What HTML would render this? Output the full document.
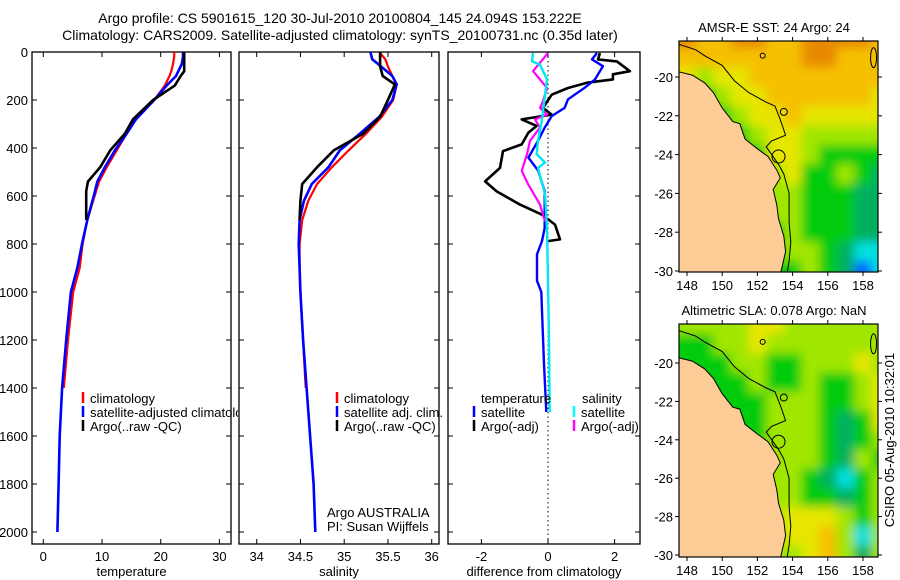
<!DOCTYPE html>
<html><head><meta charset="utf-8">
<style>
html,body{margin:0;padding:0;background:#fff;}
svg{display:block;font-family:"Liberation Sans",sans-serif;}
</style></head>
<body>
<svg id="fig" width="900" height="580" viewBox="0 0 900 580" xmlns="http://www.w3.org/2000/svg">
<defs>
<filter id="blur" x="-10%" y="-10%" width="120%" height="120%"><feGaussianBlur stdDeviation="5"/></filter>
<clipPath id="clip-leg1"><rect x="0" y="380" width="238" height="60"/></clipPath>
</defs>
<text x="340" y="23" font-size="14" text-anchor="middle">Argo profile: CS 5901615_120 30-Jul-2010 20100804_145 24.094S 153.222E</text>
<text x="340" y="40" font-size="14" text-anchor="middle">Climatology: CARS2009. Satellite-adjusted climatology: synTS_20100731.nc (0.35d later)</text>
<g id="g"></g>
</svg>
<script>
// ---------- DATA ----------
const tDepth = [0,20,50,80,100,140,200,280,340,410,480,540,580,700,800,900,1000,1200,1400,1600,1800,2000];
const climTemp = [22.3,22.3,22.1,21.8,21.5,20.7,18.9,15.8,14.2,12.5,10.8,9.5,9.0,7.5,6.7,6.2,5.1,4.2,3.5,null,null,null];
const satTemp  = [23.8,23.8,23.6,23.0,22.6,21.0,18.9,15.8,14.2,12.2,10.5,9.2,8.8,7.5,6.6,5.8,4.7,3.9,3.2,2.8,2.6,2.4];
const argoTemp = [24.0,24.0,24.0,24.0,23.4,22.4,18.7,15.3,13.9,11.4,9.7,7.6,7.3,7.3,6.6,5.8,4.7,3.9,3.2,2.8,2.6,2.4];
const sDepth = [0,30,60,100,135,200,270,340,410,480,550,620,700,800,900,1000,1200,1400,1600,1800,2000];
const climSal = [35.40,35.47,35.50,35.55,35.60,35.56,35.43,35.25,35.05,34.86,34.69,34.59,34.52,34.49,34.49,34.50,34.53,34.56,null,null,null];
const satSal  = [35.30,35.32,35.42,35.55,35.60,35.55,35.40,35.18,34.95,34.82,34.63,34.54,34.49,34.48,34.49,34.50,34.53,34.57,34.61,34.65,34.67];
const argoSal = [35.41,35.41,35.41,35.44,35.58,35.50,35.41,35.22,34.88,34.69,34.52,34.50,34.49,34.48,34.49,34.50,34.53,34.57,34.61,34.65,34.67];
const dTArgoDepth = [4,31,39,80,93,114,128,150,178,233,261,281,308,336,385,413,483,539,581,636,678,719,781,788];
const dTArgo = [1.56,1.5,2.07,2.46,1.95,1.95,1.17,0.6,0.11,-0.15,0.11,-0.79,-0.34,-0.59,-0.79,-1.35,-1.44,-1.89,-1.54,-0.84,-0.18,0.21,0.36,0.0];
const dTSatDepth = [4,31,59,114,149,197,233,267,315,370,440,495,581,733,788,843,953,1000,1300,1500];
const dTSat = [1.47,1.32,1.65,1.41,1.1,0.6,0.5,0.11,-0.1,-0.3,-0.59,-0.29,-0.1,-0.1,-0.18,-0.33,-0.33,-0.2,-0.12,-0.05];
const dSSatDepth = [4,39,53,114,281,370,426,461,483,592,733,953,1200,1500];
const dSSat = [-0.45,-0.48,-0.24,-0.03,-0.18,-0.3,-0.34,-0.09,-0.3,-0.09,-0.03,0.0,0.03,0.05];
const dSArgoDepth = [4,80,114,150,205,233,261,281,315,370,426,495,550,636,706];
const dSArgo = [0.0,-0.45,-0.24,-0.03,-0.15,-0.24,-0.03,-0.39,-0.24,-0.54,-0.63,-0.79,-0.6,-0.24,-0.09];
const depthTicks = [0,200,400,600,800,1000,1200,1400,1600,1800,2000];
const tempTicks = [0,10,20,30];
const salTicks = [34,34.5,35,35.5,36];
const salTickLabels = ["34","34.5","35","35.5","36"];
const diffTicks = [-2,0,2];
const lonTicks = [148,150,152,154,156,158];
const latTicks = [-20,-22,-24,-26,-28,-30];
const gridLats = [-17,-18,-19,-20,-21,-22,-23,-24,-25,-26,-27,-28,-29,-30,-31];
const gridLons = [147,148,149,150,151,152,153,154,155,156,157,158,159,160];
const sstGrid = [
[9,9,8,8,9,9,8,8,9,9,9,9,8,8],
[9,9,8,8,9,9,8,8,9,9,9,9,8,8],[8,8,8,8,8,8,8,8,9,9,8,8,8,8],[7,7,6,7,7,8,8,8,8,8,8,8,8,8],
[6,6,5,6,7,7,8,8,8,8,8,8,7,7],[5,5,5,5,6,7,7,8,7,7,7,7,7,7],[5,5,5,5,5,6,7,7,6,6,6,6,6,6],
[5,5,5,5,5,5,7,7,6,5,5,5,5,5],[5,5,5,5,5,4,6,7,5,5,6,5,4,4],[5,5,5,5,5,4,6,6,5,5,5,4,4,4],
[5,5,5,5,5,3,6,6,5,5,5,4,4,4],[5,5,5,5,5,4,5,6,5,5,5,4,4,4],[5,5,5,5,5,4,5,6,6,5,4,3,3,3],
[5,5,5,5,5,3,5,5,6,5,4,1,3,3],[5,5,5,5,5,3,5,5,6,5,4,1,3,3]];
const slaGrid = [
[6,6,6,6,6,7,7,6,6,6,6,6,6,6],
[6,6,6,6,6,7,7,6,6,6,6,6,6,6],[5,5,5,6,6,7,6,6,6,6,6,6,6,6],[5,5,5,5,6,6,5,5,6,6,6,7,6,6],
[5,5,5,5,5,6,5,5,6,5,5,6,7,7],[5,5,5,5,5,5,6,6,6,5,5,6,7,7],[5,5,5,5,5,5,6,6,6,5,4,5,7,7],
[5,5,5,5,5,5,6,6,6,5,4,5,6,6],[5,5,5,5,5,6,6,6,6,5,4,6,5,5],[5,5,5,5,5,6,6,6,5,4,3,5,6,6],
[5,5,5,5,5,5,6,6,5,5,4,5,6,6],[5,5,5,5,5,5,6,7,7,7,6,5,6,6],[5,5,5,5,5,5,6,7,7,8,6,3,6,6],
[5,5,5,5,5,5,6,6,7,8,6,4,6,6],[5,5,5,5,5,5,6,6,7,8,6,4,6,6]];
const coast = [[147.4,-19.7],[148.3,-19.9],[149,-20.3],[149.5,-20.8],[150,-21.6],[150.6,-22.3],[151,-22.4],[151.3,-23.2],[152,-23.7],[152.6,-24.1],[153.1,-24.8],[153.3,-25.2],[152.9,-25.8],[153.1,-26.6],[153.2,-27.3],[153.5,-28.2],[153.6,-29],[153.4,-29.8],[153.2,-30.6],[147.4,-30.6]];
const contour = [[147.5,-18.3],[148.5,-18.6],[149,-18.9],[150,-19.4],[150.7,-20.2],[151.5,-20.8],[152.5,-21.3],[153,-21.5],[153.3,-22.2],[153.6,-23],[152.8,-23.3],[152.5,-23.6],[153.2,-24.5],[153.5,-25],[153.8,-26],[153.8,-27.5],[153.9,-28.5],[153.8,-29.5],[153.6,-30.6]];
const cmap = ["#0030c0","#0060ff","#00c0ff","#00e0e0","#00b060","#00cc10","#a0e600","#e6e600","#f5c000","#e88a00"];

// ---------- HELPERS ----------
const NS="http://www.w3.org/2000/svg";
const G=document.getElementById('g');
function mk(tag,attrs,parent){const e=document.createElementNS(NS,tag);for(const k in attrs)e.setAttribute(k,attrs[k]);(parent||G).appendChild(e);return e;}
function txt(x,y,s,size,anchor,parent){const e=mk('text',{x:x,y:y,'font-size':size||13,'text-anchor':anchor||'middle'},parent);e.textContent=s;return e;}
const Y0=52, YS=0.24;
const yD=d=>Y0+d*YS;
const xT=v=>43.3+v*5.87;
const xS=v=>256.7+(v-34)*87.5;
const xDf=v=>548+v*33.3;

function panel(x0,x1,name,xs,ticks,labels,xlabel,showY){
  const f=mk('rect',{x:x0,y:Y0,width:x1-x0,height:544-Y0,fill:'none',stroke:'#000','stroke-width':1.3});
  
  
  depthTicks.forEach(d=>{const y=yD(d);
    mk('line',{x1:x0,y1:y,x2:x0+5,y2:y,stroke:'#000'});mk('line',{x1:x1,y1:y,x2:x1-5,y2:y,stroke:'#000'});
    if(showY){const t=txt(28,y+5,String(d),13,'end');}
  });
  ticks.forEach((v,i)=>{const x=xs(v);
    mk('line',{x1:x,y1:544,x2:x,y2:539,stroke:'#000'});mk('line',{x1:x,y1:Y0,x2:x,y2:Y0+5,stroke:'#000'});
    const t=txt(x,561,labels[i],13);
  });
  const xl=txt((x0+x1)/2,576,xlabel,13);
  
  
}
function series(depths,vals,xs,color,w,name){
  let d='',pen=false;
  depths.forEach((dp,i)=>{const v=vals[i];if(v===null||v===undefined){pen=false;return;}
    d+=(pen?'L':'M')+xs(v).toFixed(1)+','+yD(dp).toFixed(1);pen=true;});
  const p=mk('path',{d:d,fill:'none',stroke:color,'stroke-width':w,'stroke-linejoin':'round'});
  
  
}
function legend(x,y,color,label,name,parent){
  if(color)mk('line',{x1:x,y1:y-11,x2:x,y2:y,stroke:color,'stroke-width':2.5},parent);
  const t=txt(x+7,y,label,13,'start',parent);
  
  
}

// ---------- PANEL 1: temperature ----------
panel(32,231,'temperature-panel',xT,tempTicks,tempTicks.map(String),'temperature',true);
series(tDepth,climTemp,xT,'#ff0000',2.2,'temp-climatology-line');
series(tDepth,satTemp,xT,'#0000ff',2.6,'temp-satellite-adjusted-line');
series(tDepth.slice(0,14),argoTemp.slice(0,14),xT,'#000000',2.6,'temp-argo-line');
const leg1=mk('g',{'clip-path':'url(#clip-leg1)'});
legend(83,403,'#f00','climatology','legend-climatology',leg1);
legend(83,417,'#00f','satellite-adjusted climatology','legend-satellite-adjusted',leg1);
legend(83,431,'#000','Argo(..raw -QC)','legend-argo',leg1);

// ---------- PANEL 2: salinity ----------
panel(239,439,'salinity-panel',xS,salTicks,salTickLabels,'salinity',false);
series(sDepth,climSal,xS,'#ff0000',2.2,'sal-climatology-line');
series(sDepth,satSal,xS,'#0000ff',2.6,'sal-satellite-adjusted-line');
series(sDepth.slice(0,13),argoSal.slice(0,13),xS,'#000000',2.6,'sal-argo-line');
legend(337,403,'#f00','climatology','legend-sal-climatology');
legend(337,417,'#00f','satellite adj. clim.','legend-sal-satellite');
legend(337,431,'#000','Argo(..raw -QC)','legend-sal-argo');
legend(320,517,null,'Argo AUSTRALIA','argo-australia-label');
legend(320,531,null,'PI: Susan Wijffels','pi-name-label');

// ---------- PANEL 3: difference ----------
panel(448,640,'difference-panel',xDf,diffTicks,diffTicks.map(String),'difference from climatology',false);
mk('line',{x1:xDf(0),y1:Y0,x2:xDf(0),y2:544,stroke:'#000','stroke-dasharray':'1.5,3'});
series(dTArgoDepth,dTArgo,xDf,'#000000',2.6,'diff-temp-argo-line');
series(dTSatDepth,dTSat,xDf,'#0000ff',2.4,'diff-temp-satellite-line');
series(dSArgoDepth,dSArgo,xDf,'#ff00ff',2.2,'diff-sal-argo-line');
series(dSSatDepth,dSSat,xDf,'#00e8f0',2.4,'diff-sal-satellite-line');
legend(474,403,null,'temperature','legend-diff-temperature-heading');
legend(474,417,'#00f','satellite','legend-diff-temp-satellite');
legend(474,431,'#000','Argo(-adj)','legend-diff-temp-argo');
legend(575,403,null,'salinity','legend-diff-salinity-heading');
legend(574,417,'#0ff','satellite','legend-diff-sal-satellite');
legend(574,431,'#f0f','Argo(-adj)','legend-diff-sal-argo');

// ---------- MAPS ----------
const xL=lon=>687+(lon-148)*17.6;
function drawMap(top,bot,y20,ys,grid,name,title){
  const yL=lat=>y20+(-20-lat)*ys;
  const clipId='clip-'+name;
  const cp=mk('clipPath',{id:clipId});
  mk('rect',{x:679,y:top,width:199,height:bot-top},cp);
  const g=mk('g',{'clip-path':'url(#'+clipId+')'});
  
  
  const cells=mk('g',{filter:'url(#blur)'},g);
  gridLats.forEach((lat,r)=>gridLons.forEach((lon,c)=>{
    const x0=xL(lon-0.5),x1=xL(lon+0.5),y0=yL(lat+0.5),y1=yL(lat-0.5);
    mk('rect',{x:x0.toFixed(1),y:y0.toFixed(1),width:(x1-x0+0.6).toFixed(1),height:(y1-y0+0.6).toFixed(1),fill:cmap[grid[r][c]]},cells);
  }));
  const land=mk('polygon',{points:coast.map(p=>xL(p[0]).toFixed(1)+','+yL(p[1]).toFixed(1)).join(' '),fill:'#fccb96',stroke:'#000','stroke-width':1},g);
  
  
  mk('polyline',{points:contour.map(p=>xL(p[0]).toFixed(1)+','+yL(p[1]).toFixed(1)).join(' '),fill:'none',stroke:'#000','stroke-width':1},g);
  mk('circle',{cx:xL(153.2),cy:yL(-24.1),r:6.5,fill:'none',stroke:'#000','stroke-width':1},g);
  mk('circle',{cx:xL(152.3),cy:yL(-18.9),r:2.5,fill:'none',stroke:'#000'},g);
  mk('circle',{cx:xL(153.5),cy:yL(-21.8),r:3.5,fill:'none',stroke:'#000'},g);
  mk('ellipse',{cx:xL(158.6),cy:yL(-19),rx:3,ry:10,fill:'none',stroke:'#000'},g);
  const fr=mk('rect',{x:679,y:top,width:199,height:bot-top,fill:'none',stroke:'#000','stroke-width':1.2});
  
  
  lonTicks.forEach(l=>{const x=xL(l);
    mk('line',{x1:x,y1:bot,x2:x,y2:bot+4,stroke:'#000'});mk('line',{x1:x,y1:top,x2:x,y2:top-4,stroke:'#000'});
    const t=txt(x,bot+18,String(l),13);});
  latTicks.forEach(l=>{const y=yL(l);
    mk('line',{x1:679,y1:y,x2:675,y2:y,stroke:'#000'});mk('line',{x1:878,y1:y,x2:882,y2:y,stroke:'#000'});
    const t=txt(673,y+5,String(l),13,'end');});
  const tt=txt(774,top-9,title,13);
  
  
}
drawMap(41,272,77,19.4,sstGrid,'sst-map','AMSR-E SST: 24 Argo: 24');
drawMap(324,557,363,19.2,slaGrid,'sla-map','Altimetric SLA: 0.078 Argo: NaN');
const cs=txt(0,0,'CSIRO 05-Aug-2010 10:32:01',13);
cs.setAttribute('transform','translate(894,440) rotate(-90)');


</script>
</body></html>
